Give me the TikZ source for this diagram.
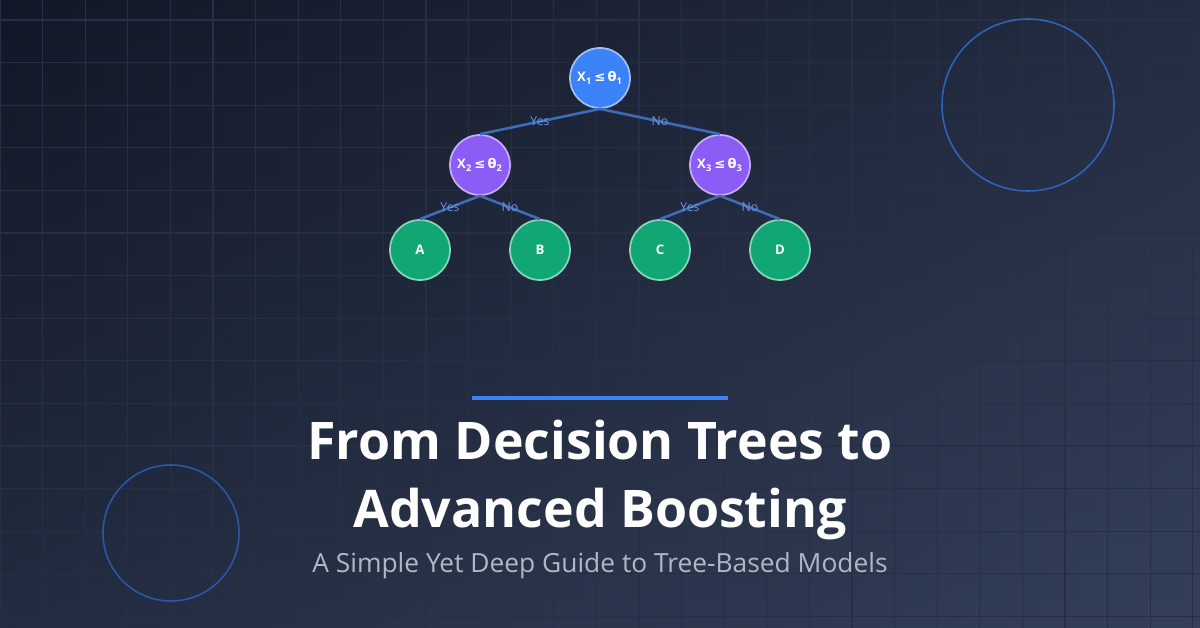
\documentclass[tikz,border=0pt]{standalone}
\usepackage{fontspec}
\setmainfont{Open Sans}
\newfontfamily\nodefont{DejaVu Sans}
\usetikzlibrary{positioning}
\definecolor{bgtop}{HTML}{121827}
\definecolor{bgbot}{HTML}{34405A}
\definecolor{gridcol}{HTML}{262F43}
\definecolor{rootblue}{HTML}{3B82F6}
\definecolor{splitpurple}{HTML}{8B5CF6}
\definecolor{leafgreen}{HTML}{10A774}
\definecolor{edgeblue}{HTML}{3E6BB8}
\definecolor{labelblue}{HTML}{6E96DA}
\definecolor{subgray}{HTML}{B0B8C4}
\newcommand{\xle}[2]{X\textsubscript{#1}\,{\nodefont\bfseries ≤}\,{\nodefont\bfseries θ}\textsubscript{#2}}
\tikzset{
    node style tree/.style={draw=white!50!#1,line width=1pt,fill=#1,circle,minimum size=1.2cm,inner sep=0pt,
        text=white,font=\bfseries\fontsize{7.5}{9}\selectfont},
    edge style/.style={draw=edgeblue,line width=1.5pt},
    label style/.style={text=labelblue,font=\fontsize{7}{8}\selectfont,inner sep=1pt},
}
\begin{document}
\begin{tikzpicture}[x=0.02cm,y=-0.02cm]
\useasboundingbox (0,0) rectangle (1200,628);
\shade[top color=bgtop,bottom color=bgbot] (0,0) rectangle (1200,628);
\begin{scope}
\clip (0,0) rectangle (1200,628);
\shade[left color=bgtop,right color=bgbot,opacity=0.5] (0,0) rectangle (1200,628);
\end{scope}

% grid
\foreach \gx in {0,...,28} \draw[gridcol,line width=0.7pt] (42.6*\gx,0) -- (42.6*\gx,628);
\foreach \gy in {0,...,14} \draw[gridcol,line width=0.7pt] (0,20+42.6*\gy) -- (1200,20+42.6*\gy);

% rings
\draw[rootblue!70!bgtop,line width=0.9pt] (1028,105) circle (86);
\draw[rootblue!60!bgtop,line width=0.9pt] (171,533) circle (68);

% tree
\node[node style tree=rootblue] (root) at (600,78) {\xle{1}{1}};
\node[node style tree=splitpurple] (left) at (480,165) {\xle{2}{2}};
\node[node style tree=splitpurple] (right) at (720,165) {\xle{3}{3}};
\node[node style tree=leafgreen] (a) at (420,250) {A};
\node[node style tree=leafgreen] (b) at (540,250) {B};
\node[node style tree=leafgreen] (c) at (660,250) {C};
\node[node style tree=leafgreen] (d) at (780,250) {D};

\draw[edge style] (root.south) -- node[label style]{Yes} (left.north);
\draw[edge style] (root.south) -- node[label style]{No} (right.north);
\draw[edge style] (left.south) -- node[label style]{Yes} (a.north);
\draw[edge style] (left.south) -- node[label style]{No} (b.north);
\draw[edge style] (right.south) -- node[label style]{Yes} (c.north);
\draw[edge style] (right.south) -- node[label style]{No} (d.north);

% title
\draw[rootblue,line width=2.2pt] (472,398) -- (728,398);
\node[text=white,font=\bfseries\fontsize{29.5}{38.5}\selectfont,align=center] (title) at (600,480)
    {From Decision Trees to\\Advanced Boosting};
\node[text=subgray,font=\fontsize{15}{18}\selectfont] (sub) at (600,566)
    {A Simple Yet Deep Guide to Tree-Based Models};
\end{tikzpicture}
\end{document}
